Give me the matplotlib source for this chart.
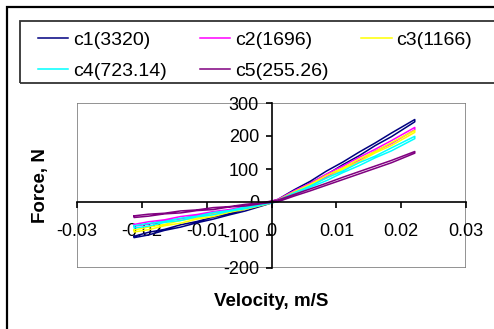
import matplotlib.pyplot as plt
from matplotlib.patches import Rectangle

plt.rcParams['font.family'] = ['Liberation Sans', 'DejaVu Sans']
plt.rcParams['axes.unicode_minus'] = False

# velocity samples, outgoing branch (the return branch goes back over them)
vel = [-0.0212, -0.019, -0.0165, -0.014, -0.0115, -0.009, -0.0065, -0.004, -0.0015,
       0.001, 0.0035, 0.006, 0.0085, 0.011, 0.0135, 0.016, 0.0185, 0.0221]

labels = ['c1(3320)', 'c2(1696)', 'c3(1166)', 'c4(723.14)', 'c5(255.26)']
colors = ['#000080', '#FF00FF', '#FFFF00', '#00FFFF', '#800080']

c1_up = [-104, -92, -83, -69, -59, -46, -35, -21, -8, 8, 37, 63, 94, 121, 151, 179, 209, 250]
c1_dn = [-108, -100, -86, -76, -63, -52, -39, -27, -12, 3, 27, 57, 83, 113, 140, 171, 198, 243]
c2_up = [-68, -60, -54, -44, -38, -29, -23, -13, -5, 8, 34, 57, 85, 109, 135, 160, 186, 226]
c2_dn = [-73, -67, -57, -51, -41, -35, -25, -19, -9, 3, 26, 53, 76, 103, 126, 154, 177, 219]
c3_up = [-85, -76, -68, -56, -48, -37, -29, -16, -6, 6, 31, 54, 81, 103, 130, 153, 180, 217]
c3_dn = [-91, -84, -72, -64, -52, -44, -31, -22, -10, 2, 24, 51, 73, 99, 122, 149, 171, 211]
c4_up = [-72, -65, -59, -49, -43, -32, -26, -15, -6, 5, 28, 49, 73, 94, 119, 139, 164, 199]
c4_dn = [-79, -73, -62, -56, -45, -39, -28, -20, -9, 1, 21, 45, 65, 89, 110, 134, 155, 192]
c5_up = [-42, -37, -34, -27, -24, -17, -14, -7, -2, 6, 23, 40, 57, 75, 92, 109, 126, 153]
c5_dn = [-47, -43, -36, -33, -26, -23, -15, -12, -5, 1, 18, 34, 51, 68, 85, 102, 119, 148]

up = [c1_up, c2_up, c3_up, c4_up, c5_up]
dn = [c1_dn, c2_dn, c3_dn, c4_dn, c5_dn]

fig = plt.figure(figsize=(4.94, 3.29), dpi=100)
ax = fig.add_axes([77 / 494, 1 - 268 / 329, 389 / 494, 165 / 329])

lines = []
for lab, col, f_up, f_dn in zip(labels, colors, up, dn):
    x = vel + vel[::-1] + vel[:1]
    y = f_up + f_dn[::-1] + f_up[:1]
    ln, = ax.plot(x, y, color=col, lw=1.1, label=lab)
    lines.append(ln)

ax.set_xlim(-0.03, 0.03)
ax.set_ylim(-200, 300)
ax.set_xticks([-0.03, -0.02, -0.01, 0, 0.01, 0.02, 0.03])
ax.set_xticklabels(['-0.03', '-0.02', '-0.01', '0', '0.01', '0.02', '0.03'])
ax.set_yticks([-200, -100, 0, 100, 200, 300])

ax.spines['left'].set_position(('data', 0))
ax.spines['bottom'].set_position(('data', 0))
ax.spines['top'].set_visible(False)
ax.spines['right'].set_visible(False)
ax.spines['left'].set_linewidth(1.2)
ax.spines['bottom'].set_linewidth(1.2)
ax.add_patch(Rectangle((0, 0), 1, 1, transform=ax.transAxes, fill=False,
                       ec='#808080', lw=1.2, zorder=0))
ax.tick_params(axis='both', direction='out', length=4, width=1.2, labelsize=13)
ax.tick_params(axis='x', pad=11)
ax.tick_params(axis='y', pad=5)

ax.set_xlabel('Velocity, m/S', fontsize=13.5, fontweight='bold')
ax.xaxis.set_label_coords(0.5, -0.2)
ax.xaxis.label.set_va('center')
ax.set_ylabel('Force, N', fontsize=13.5, fontweight='bold')
ax.yaxis.set_label_coords(-0.093, 0.5)
ax.yaxis.label.set_va('center')

# legend filled row by row: matplotlib fills by column, so reorder
order = [0, 3, 1, 4, 2]
fig.legend([lines[i] for i in order], [labels[i] for i in order], ncol=3,
           loc='upper left', bbox_to_anchor=(38 / 494, 1 - 31 / 329),
           frameon=False, fontsize=14, handlelength=1.55, handletextpad=0.25,
           columnspacing=1.7, labelspacing=0.72, borderpad=0, borderaxespad=0)

fig.add_artist(Rectangle((20 / 494, 1 - 83 / 329), 1, 62 / 329, transform=fig.transFigure,
                         fill=False, ec='#333333', lw=1.3))
fig.add_artist(Rectangle((7 / 494, -0.1), 1, 1.1 - 6.5 / 329, transform=fig.transFigure,
                         fill=False, ec='black', lw=1.6))

fig.savefig('out.png', dpi=100)
